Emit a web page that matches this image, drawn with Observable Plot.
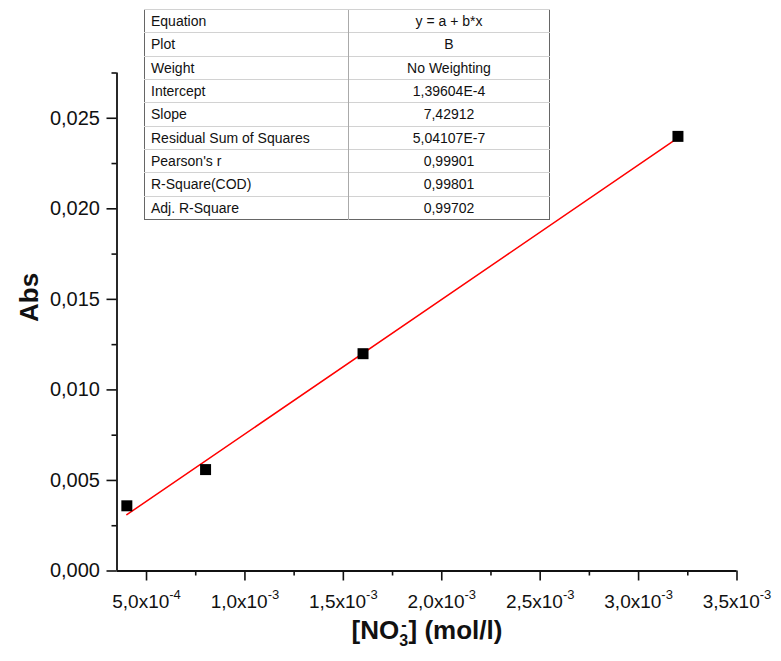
<!DOCTYPE html>
<html>
<head>
<meta charset="utf-8">
<script src="https://cdn.jsdelivr.net/npm/d3@7"></script>
<script src="https://cdn.jsdelivr.net/npm/@observablehq/plot@0.6"></script>
<style>
  html, body { margin: 0; padding: 0; background: #fff; }
  #wrap { position: relative; width: 781px; height: 661px; font-family: "Liberation Sans", Arial, sans-serif; }
  #fit { position: absolute; left: 144px; top: 9px; width: 406px; height: 211px;
         border-collapse: collapse; border: 1.5px solid #666; font-size: 14px; color: #111; table-layout: fixed; background: #fff; }
  #fit td { border-top: 1.5px solid #d2d2d2; padding: 0 0 0 6px; height: 22px; line-height: 20px; white-space: nowrap; }
  #fit tr:first-child td { border-top: none; }
  #fit td.v { text-align: center; border-left: 1px solid #aaa; padding: 0; }
</style>
</head>
<body>
<div id="wrap"></div>
<script>
// ---- data ----
const concentration = [0.0004, 0.0008, 0.0016, 0.0032];   // [NO3-] mol/l
const absorbance    = [0.0036, 0.0056, 0.0120, 0.0240];   // Abs
const intercept = 1.39604e-4;
const slope = 7.42912;

const xDomain = [0.00035, 0.0035];
const yDomain = [0, 0.0275];
const xTicks = [0.0005, 0.0010, 0.0015, 0.0020, 0.0025, 0.0030, 0.0035];
const xTickMantissa = ["5,0", "1,0", "1,5", "2,0", "2,5", "3,0", "3,5"];
const xTickExponent = ["-4", "-3", "-3", "-3", "-3", "-3", "-3"];
const xMinorTicks = [0.00075, 0.00125, 0.00175, 0.00225, 0.00275, 0.00325];
const yTicks = [0, 0.005, 0.010, 0.015, 0.020, 0.025];
const yTickLabels = ["0,000", "0,005", "0,010", "0,015", "0,020", "0,025"];
const yMinorTicks = [0.0025, 0.0075, 0.0125, 0.0175, 0.0225, 0.0275];

const tableLabels = ["Equation", "Plot", "Weight", "Intercept", "Slope", "Residual Sum of Squares", "Pearson's r", "R-Square(COD)", "Adj. R-Square"];
const tableValues = ["y = a + b*x", "B", "No Weighting", "1,39604E-4", "7,42912", "5,04107E-7", "0,99901", "0,99801", "0,99702"];

const xLabel = "[NO3-] (mol/l)";
const yLabel = "Abs";

// ---- build ----
const points = concentration.map((x, i) => ({x, y: absorbance[i]}));
const xFit = [d3.min(concentration), d3.max(concentration)];
const fit = xFit.map(x => ({x, y: intercept + slope * x}));

const font = "Liberation Sans, Arial, sans-serif";

const chart = Plot.plot({
  width: 781,
  height: 661,
  marginLeft: 116.5,
  marginRight: 44.5,
  marginTop: 72.5,
  marginBottom: 90.5,
  style: {fontFamily: font, color: "#111", background: "white", overflow: "visible"},
  x: {domain: xDomain, type: "linear"},
  y: {domain: yDomain, type: "linear"},
  marks: [
    Plot.axisX({ticks: xTicks, tickSize: 10, tickPadding: 13, fontSize: 19, strokeWidth: 1.6,
                tickFormat: d => { const i = xTicks.indexOf(d); return xTickMantissa[i] + "x10|" + xTickExponent[i]; },
                label: null}),
    Plot.axisX({ticks: xMinorTicks, tickSize: 5, strokeWidth: 1.6, tickFormat: () => "", label: null}),
    Plot.axisY({ticks: yTicks, tickSize: 10, tickPadding: 7, fontSize: 20, strokeWidth: 1.6,
                tickFormat: d => yTickLabels[yTicks.indexOf(d)], label: null}),
    Plot.axisY({ticks: yMinorTicks, tickSize: 5, strokeWidth: 1.6, tickFormat: () => "", label: null}),
    Plot.ruleX([xDomain[0]], {stroke: "#111", strokeWidth: 1.8}),
    Plot.ruleY([yDomain[0]], {stroke: "#111", strokeWidth: 1.8}),
    Plot.line(fit, {x: "x", y: "y", stroke: "#ff0000", strokeWidth: 1.5}),
    Plot.dot(points, {x: "x", y: "y", symbol: "square", r: 6.2, fill: "#000", stroke: "none"}),
    Plot.text([xLabel], {frameAnchor: "bottom", dy: 68, fontSize: 26, fontWeight: "bold", fontFamily: font, fill: "#111", text: d => d}),
    Plot.text([yLabel], {frameAnchor: "left", dx: -87, rotate: -90, fontSize: 26, fontWeight: "bold", fontFamily: font, fill: "#111", text: d => d})
  ]
});

// superscripts / subscripts
d3.select(chart).selectAll("text").each(function() {
  const t = this.textContent;
  if (t.includes("x10|")) {
    const [m, e] = t.split("|");
    const el = d3.select(this);
    el.text(null);
    el.append("tspan").text(m);
    el.append("tspan").attr("font-size", 13).attr("dy", "-9").text(e);
  } else if (t === xLabel) {
    const el = d3.select(this);
    el.text(null);
    el.append("tspan").text("[NO");
    el.append("tspan").attr("font-size", 16).attr("dy", 7).text("3");
    el.append("tspan").attr("font-size", 16).attr("dx", -7).attr("dy", -16).text("-");
    el.append("tspan").attr("dx", 2).attr("dy", 9).text("] (mol/l)");
  }
});

const wrap = document.getElementById("wrap");
wrap.appendChild(chart);

// fit results table
const table = d3.select(wrap).append("table").attr("id", "fit");
table.append("colgroup").call(g => {
  g.append("col").attr("style", "width:204px");
  g.append("col");
});
tableLabels.forEach((lab, i) => {
  const tr = table.append("tr");
  tr.append("td").text(lab);
  tr.append("td").attr("class", "v").text(tableValues[i]);
});
</script>
</body>
</html>
